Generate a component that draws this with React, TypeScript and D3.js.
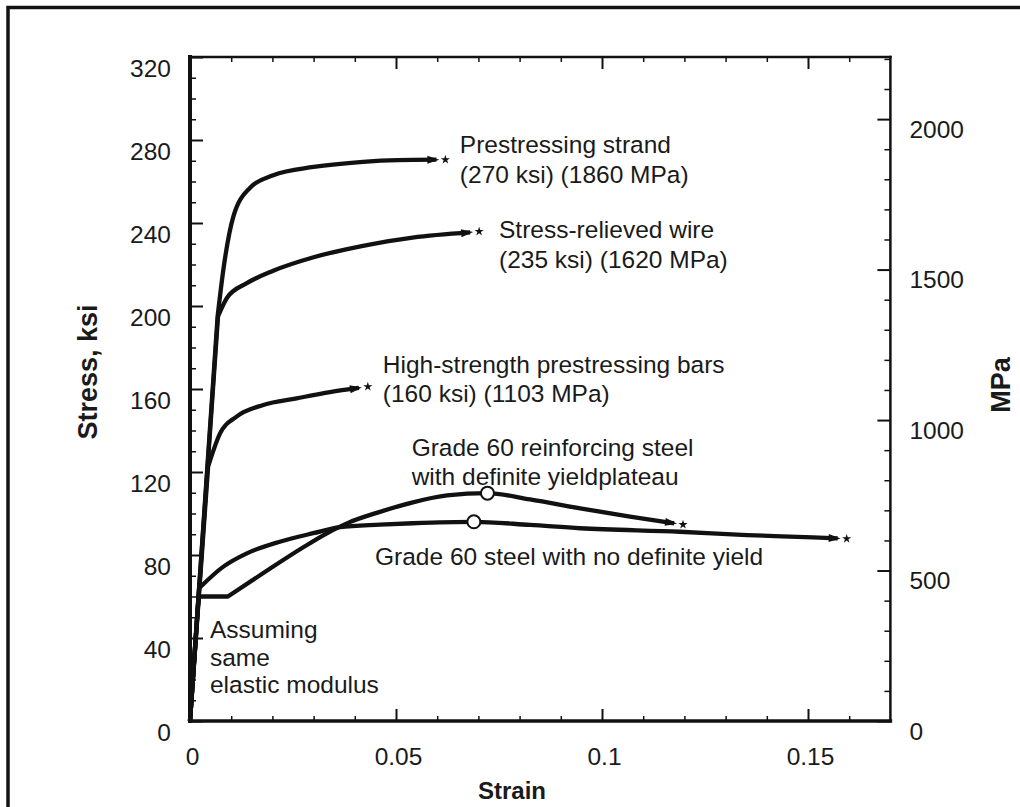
import React, { Component } from 'react'
import * as d3 from 'd3'

// [strain, stress ksi]
const strand = [[0, 0], [0.0067, 195], [0.0082, 219], [0.0105, 243], [0.0146, 257], [0.0202, 263], [0.030, 267], [0.042, 269.5], [0.0505, 270.3], [0.0598, 270.5]]
const wire = [[0, 0], [0.0068, 195], [0.0090, 204], [0.0138, 211], [0.0202, 217], [0.030, 223.5], [0.042, 229], [0.054, 233], [0.0680, 235.5]]
const bars = [[0, 0], [0.0044, 122.6], [0.0073, 138.6], [0.0113, 146.7], [0.0178, 152.3], [0.0259, 155.5], [0.034, 158.5], [0.0410, 160.5]]
const plateau = [[0, 0], [0.0021, 60], [0.0092, 60], [0.0178, 71.3], [0.0274, 83.6], [0.0330, 90.2], [0.0385, 95.6], [0.0461, 100.8], [0.0541, 105.4], [0.0624, 108.7], [0.0722, 109.8], [0.0825, 106.8], [0.0947, 102.5], [0.1068, 98.5], [0.1175, 95.3]]
const noYield = [[0, 0], [0.0022, 64], [0.0081, 74.4], [0.0138, 80.8], [0.0218, 86.4], [0.0299, 90.5], [0.0364, 93.4], [0.0461, 94.6], [0.0541, 95.3], [0.0689, 96], [0.0825, 94.5], [0.0947, 92.9], [0.1189, 91.2], [0.1352, 89.6], [0.1512, 88.5], [0.1572, 88]]
const circles = [[0.0722, 109.8], [0.0689, 96]]

const ksiTicks = [0, 40, 80, 120, 160, 200, 240, 280, 320]
const mpaTicks = [0, 500, 1000, 1500, 2000]
const strainTicks = [0, 0.05, 0.1, 0.15]
const strainLabels = ['0', '0.05', '0.1', '0.15']

const notes = [
  ['Prestressing strand', '(270 ksi) (1860 MPa)'],
  ['Stress-relieved wire', '(235 ksi) (1620 MPa)'],
  ['High-strength prestressing bars', '(160 ksi) (1103 MPa)'],
  ['Grade 60 reinforcing steel', 'with definite yieldplateau'],
  ['Grade 60 steel with no definite yield'],
  ['Assuming', 'same', 'elastic modulus'],
]
// where each note starts (strain, ksi of first baseline)
const noteAt = [[0.0655, 273.7], [0.0750, 232.8], [0.0468, 167.7], [0.0538, 127.5], [0.0449, 75.2], [0.00485, 40]]
const noteGap = [30, 30, 29, 29, 0, 27.5]

const ink = '#111'
const font = '"Liberation Sans", Arial, Helvetica, sans-serif'
const KSI_TO_MPA = 6.895

export default class App extends Component {
  svgRef = React.createRef<SVGSVGElement>()

  componentDidMount() {
    this.init()
  }

  axisPart = (node, transform, axis, width) => {
    let g = node.append('g').attr('transform', transform).call(axis)
    g.select('.domain').remove()
    g.selectAll('line').attr('stroke', ink).attr('stroke-width', width)
    g.selectAll('text').attr('fill', '#1a1a1a').style('font-family', font).style('font-size', '24.5px')
    return g
  }

  init = () => {
    const node = d3.select(this.svgRef.current)
    node.selectAll('*').remove()

    const x = d3.scaleLinear().domain([0, 0.17]).range([190, 890.4])
    const y = d3.scaleLinear().domain([0, 320]).range([721, 57])
    const yMPa = d3.scaleLinear().domain([0, 320 * KSI_TO_MPA]).range([721, 57])
    const [x0, x1] = x.range()
    const [y0, y1] = y.range()

    // outer frame (cut off at right and bottom in the scan)
    node.append('rect').attr('x', 8).attr('y', 7.5).attr('width', 1300).attr('height', 1000)
      .attr('fill', 'none').attr('stroke', ink).attr('stroke-width', 3.5)

    // minor ticks
    const minorKsi = d3.range(10, 320, 10).filter(v => v % 40 !== 0)
    const minorMpa = d3.range(100, 2206, 100).filter(v => v % 500 !== 0)
    const minorStrain = d3.range(1, 17).filter(i => i % 5 !== 0).map(i => i / 100)
    const noLabel = () => ''
    this.axisPart(node, `translate(${x0},0)`, d3.axisLeft(y).tickValues(minorKsi).tickSize(-6).tickFormat(noLabel), 1.5)
    this.axisPart(node, `translate(${x1},0)`, d3.axisRight(yMPa).tickValues(minorMpa).tickSize(-6).tickFormat(noLabel), 1.5)
    this.axisPart(node, `translate(0,${y1})`, d3.axisTop(x).tickValues(minorStrain).tickSize(-5).tickFormat(noLabel), 1.5)
    this.axisPart(node, `translate(0,${y0})`, d3.axisBottom(x).tickValues(minorStrain).tickSize(-5).tickFormat(noLabel), 1.5)

    // major ticks + labels
    this.axisPart(node, `translate(${x0},0)`, d3.axisLeft(y).tickValues(ksiTicks).tickSize(-13).tickPadding(19).tickFormat(d => String(d)), 2)
      .selectAll('text').attr('dy', 19)
    this.axisPart(node, `translate(${x1},0)`, d3.axisRight(yMPa).tickValues(mpaTicks).tickSize(-13).tickPadding(19).tickFormat(d => String(d)), 2)
      .selectAll('text').attr('dy', 18)
    this.axisPart(node, `translate(0,${y1})`, d3.axisTop(x).tickValues([0.05, 0.1, 0.15]).tickSize(-12).tickFormat(noLabel), 2)
    this.axisPart(node, `translate(0,${y0})`, d3.axisBottom(x).tickValues(strainTicks).tickSize(-12).tickPadding(27)
      .tickFormat((d, i) => strainLabels[i]), 2)
      .selectAll('text').attr('dx', 2)

    // plot frame
    const frame = [
      [x0, y0, x0, y1, 4], [x0, y0, x1, y0, 3.5], [x0, y1, x1, y1, 2.5], [x1, y1, x1, y0, 2.5],
    ]
    frame.forEach(f => {
      node.append('line').attr('x1', f[0]).attr('y1', f[1]).attr('x2', f[2]).attr('y2', f[3])
        .attr('stroke', ink).attr('stroke-width', f[4]).attr('stroke-linecap', 'square')
    })

    // curves: straight elastic part, then smooth
    const series = [strand, wire, bars, plateau, noYield]
    const bends = [1, 1, 1, 2, 1]
    const straight = d3.line().x(d => x(d[0])).y(d => y(d[1]))
    const smooth = d3.line().x(d => x(d[0])).y(d => y(d[1])).curve(d3.curveMonotoneX)
    const star = d3.symbol().type(d3.symbolStar).size(26)
    series.forEach((pts, i) => {
      const k = bends[i]
      const d = straight(pts.slice(0, k + 1)) + 'L' + smooth(pts.slice(k)).slice(1)
      node.append('path').attr('d', d).attr('fill', 'none').attr('stroke', ink)
        .attr('stroke-width', 4.3).attr('stroke-linejoin', 'round')
      // arrow head + star at the end
      const a = pts[pts.length - 2], b = pts[pts.length - 1]
      const ang = Math.atan2(y(b[1]) - y(a[1]), x(b[0]) - x(a[0]))
      const bx = x(b[0]), by = y(b[1])
      const tip = [bx + 3 * Math.cos(ang), by + 3 * Math.sin(ang)]
      const base = [bx - 9 * Math.cos(ang), by - 9 * Math.sin(ang)]
      const nx = -Math.sin(ang) * 4, ny = Math.cos(ang) * 4
      node.append('path')
        .attr('d', `M${tip[0]},${tip[1]}L${base[0] + nx},${base[1] + ny}L${base[0] - nx},${base[1] - ny}Z`)
        .attr('fill', ink)
      node.append('path').attr('d', star)
        .attr('transform', `translate(${bx + 9 * Math.cos(ang)},${by + 9 * Math.sin(ang)})`)
        .attr('fill', ink)
    })

    // open circles
    node.selectAll('circle.mark').data(circles).enter().append('circle')
      .attr('class', 'mark')
      .attr('cx', d => x(d[0])).attr('cy', d => y(d[1])).attr('r', 6.5)
      .attr('fill', '#fff').attr('stroke', ink).attr('stroke-width', 2)

    // annotations
    notes.forEach((lines, i) => {
      const t = node.append('text').attr('fill', '#1a1a1a')
        .style('font-family', font).style('font-size', '24.5px')
      lines.forEach((s, j) => {
        t.append('tspan').attr('x', x(noteAt[i][0])).attr('y', y(noteAt[i][1]) + j * noteGap[i]).text(s)
      })
    })

    // axis titles
    node.append('text').attr('transform', 'translate(97,372) rotate(-90)')
      .attr('text-anchor', 'middle').style('font-family', font).style('font-weight', 'bold')
      .style('font-size', '27px').attr('fill', '#1a1a1a').text('Stress, ksi')
    node.append('text').attr('transform', 'translate(1010,385) rotate(-90)')
      .attr('text-anchor', 'middle').style('font-family', font).style('font-weight', 'bold')
      .style('font-size', '27px').attr('fill', '#1a1a1a').text('MPa')
    node.append('text').attr('x', 512).attr('y', 799)
      .attr('text-anchor', 'middle').style('font-family', font).style('font-weight', 'bold')
      .style('font-size', '24px').attr('fill', '#1a1a1a').text('Strain')
  }

  render() {
    return (
      <svg ref={this.svgRef} width={1020} height={807}
        style={{ position: 'absolute', left: 0, top: 0, background: '#fff' }}></svg>
    )
  }
}
